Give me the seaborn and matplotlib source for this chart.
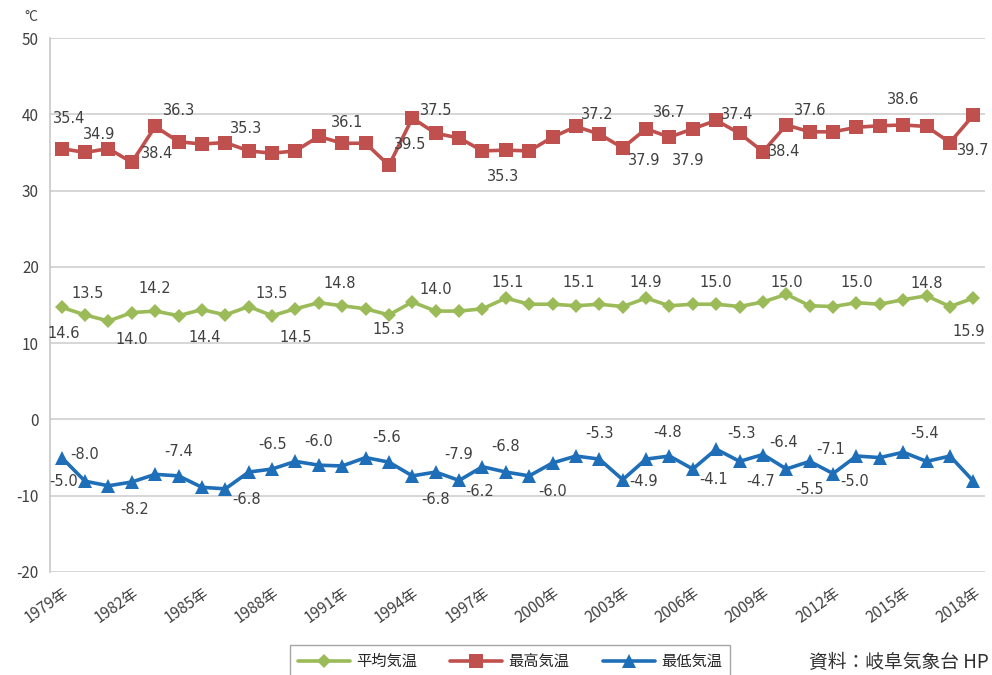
import numpy as np
import pandas as pd
import matplotlib
matplotlib.use('Agg')
import matplotlib.pyplot as plt
import seaborn as sns

# ---- data ----
years = list(range(1979, 2019))
avg_temp = [14.7, 13.7, 12.9, 14.0, 14.2, 13.6, 14.4, 13.7, 14.8, 13.6,
            14.5, 15.3, 14.9, 14.5, 13.7, 15.4, 14.2, 14.2, 14.5, 15.9,
            15.1, 15.1, 14.9, 15.1, 14.8, 15.9, 14.9, 15.1, 15.1, 14.8,
            15.4, 16.4, 14.9, 14.8, 15.3, 15.1, 15.7, 16.2, 14.8, 15.9]
max_temp = [35.5, 35.0, 35.5, 33.7, 38.4, 36.4, 36.1, 36.3, 35.2, 34.9,
            35.2, 37.1, 36.2, 36.2, 33.3, 39.5, 37.5, 36.9, 35.2, 35.3,
            35.2, 37.0, 38.4, 37.4, 35.6, 38.1, 37.0, 38.1, 39.2, 37.5,
            35.1, 38.6, 37.7, 37.7, 38.3, 38.5, 38.6, 38.4, 36.3, 39.9]
min_temp = [-5.0, -8.1, -8.7, -8.2, -7.2, -7.4, -8.9, -9.1, -6.9, -6.5,
            -5.5, -6.0, -6.1, -5.0, -5.6, -7.4, -6.9, -8.0, -6.2, -6.9,
            -7.4, -5.7, -4.8, -5.2, -7.9, -5.2, -4.8, -6.5, -3.9, -5.5,
            -4.6, -6.5, -5.5, -7.1, -4.8, -5.0, -4.3, -5.5, -4.8, -8.1]
series_names = ['平均気温', '最高気温', '最低気温']
tick_years = list(range(1979, 2019, 3))

# data labels as printed in the source chart (text, x in years, y in °C)
label_text = {
    '平均気温': ['13.5', '14.2', '13.5', '14.8', '14.0', '14.6', '14.0', '14.4', '14.5', '15.3',
               '15.1', '15.1', '14.9', '15.0', '15.0', '15.0', '14.8', '15.9'],
    '最高気温': ['35.4', '34.9', '38.4', '36.3', '35.3', '36.1', '39.5', '37.5', '35.3', '37.2',
               '37.9', '36.7', '37.9', '37.4', '38.4', '37.6', '38.6', '39.7'],
    '最低気温': ['-8.0', '-5.0', '-8.2', '-7.4', '-6.8', '-6.5', '-6.0', '-5.6', '-6.8', '-7.9',
               '-6.2', '-6.8', '-6.0', '-5.3', '-4.9', '-4.8', '-4.1', '-5.3', '-4.7', '-6.4',
               '-5.5', '-7.1', '-5.0', '-5.4'],
}
label_x = {
    '平均気温': [1980.1, 1983.0, 1988.0, 1990.9, 1995.0, 1979.1, 1982.0, 1985.1, 1989.0, 1993.0,
               1998.1, 2001.1, 2004.0, 2007.0, 2010.0, 2013.0, 2016.0, 2017.8],
    '最高気温': [1979.3, 1980.6, 1983.1, 1984.0, 1986.9, 1991.2, 1993.9, 1995.0, 1997.9, 2001.9,
               2003.9, 2005.0, 2005.8, 2007.9, 2009.9, 2011.0, 2015.0, 2018.0],
    '最低気温': [1980.0, 1979.1, 1982.1, 1984.0, 1986.9, 1988.0, 1990.0, 1992.9, 1995.0, 1996.0,
               1996.9, 1998.0, 2000.0, 2002.0, 2003.9, 2004.9, 2006.9, 2008.1, 2008.9, 2009.9,
               2011.0, 2011.9, 2012.9, 2015.9],
}
label_y = {
    '平均気温': [16.5, 17.2, 16.5, 17.8, 17.0, 11.2, 10.5, 10.7, 10.7, 11.8,
               18.0, 18.0, 18.0, 18.0, 18.0, 18.0, 17.8, 11.5],
    '最高気温': [39.5, 37.4, 34.8, 40.5, 38.2, 38.9, 36.0, 40.5, 31.9, 40.0,
               34.0, 40.2, 34.0, 40.0, 35.1, 40.5, 41.9, 35.3],
    '最低気温': [-4.6, -8.2, -11.8, -4.2, -10.5, -3.3, -2.9, -2.4, -10.5, -4.6,
               -9.5, -3.5, -9.4, -1.9, -8.2, -1.7, -7.9, -1.9, -8.2, -3.0,
               -9.2, -3.9, -8.2, -1.9],
}

colors = {'平均気温': '#9bbb59', '最高気温': '#c0504d', '最低気温': '#1f6eb8'}
markers = {'平均気温': 'D', '最高気温': 's', '最低気温': '^'}

df = pd.DataFrame({
    'year': years * 3,
    'temp': avg_temp + max_temp + min_temp,
    'series': sum([[n] * len(years) for n in series_names], []),
})

sns.set_style('white')
plt.rcParams['font.family'] = ['Noto Sans CJK JP', 'DejaVu Sans']
plt.rcParams['axes.unicode_minus'] = False

fig = plt.figure(figsize=(9.92, 6.75), dpi=100)
ax = fig.add_axes([0.0504, 0.1526, 0.9426, 0.7911])

sns.lineplot(data=df, x='year', y='temp', hue='series', style='series',
             hue_order=series_names, style_order=series_names,
             palette=colors, markers=markers, dashes=False,
             linewidth=2.6, markersize=9.5, markeredgewidth=0, ax=ax)
for line in ax.lines:
    if line.get_marker() == 'D':
        line.set_markersize(7)

for name in series_names:
    for t, x, y in zip(label_text[name], label_x[name], label_y[name]):
        ax.text(x, y, t, ha='center', va='center', fontsize=10.5,
                color='#404040', family=['DejaVu Sans'])

ax.set_xlim(1978.5, 2018.5)
ax.set_ylim(-20, 50)
ax.set_yticks(range(-20, 51, 10))
ax.set_xticks(tick_years)
ax.set_xticklabels([f'{y}年' for y in tick_years], rotation=35, ha='right',
                   rotation_mode='anchor', fontsize=11, color='#404040',
                   style='italic')
ax.tick_params(axis='y', labelsize=11, colors='#404040', length=0, pad=8)
ax.tick_params(axis='x', length=0, pad=9)
ax.set_xlabel('')
ax.set_ylabel('')
ax.yaxis.grid(True, color='#d0d0d0', linewidth=1.2)
ax.xaxis.grid(False)
for s in ['top', 'right', 'bottom']:
    ax.spines[s].set_visible(False)
ax.spines['left'].set_color('#c8c8c8')
ax.spines['left'].set_linewidth(1.2)

fig.text(0.032, 0.975, '°C', fontsize=10, color='#404040', ha='center', va='center')

handles, labels = ax.get_legend_handles_labels()
ax.legend_.remove()
fig.legend(handles, labels, loc='lower center', bbox_to_anchor=(0.514, -0.015),
           ncol=3, frameon=True, fancybox=False, edgecolor='#909090',
           fontsize=11, handlelength=3.4, columnspacing=2.2, borderpad=0.5,
           handletextpad=0.4)
fig.text(0.997, 0.018, '資料：岐阜気象台 HP', fontsize=13.5, ha='right',
         va='center', color='#303030')

fig.savefig('out.png', dpi=100)
